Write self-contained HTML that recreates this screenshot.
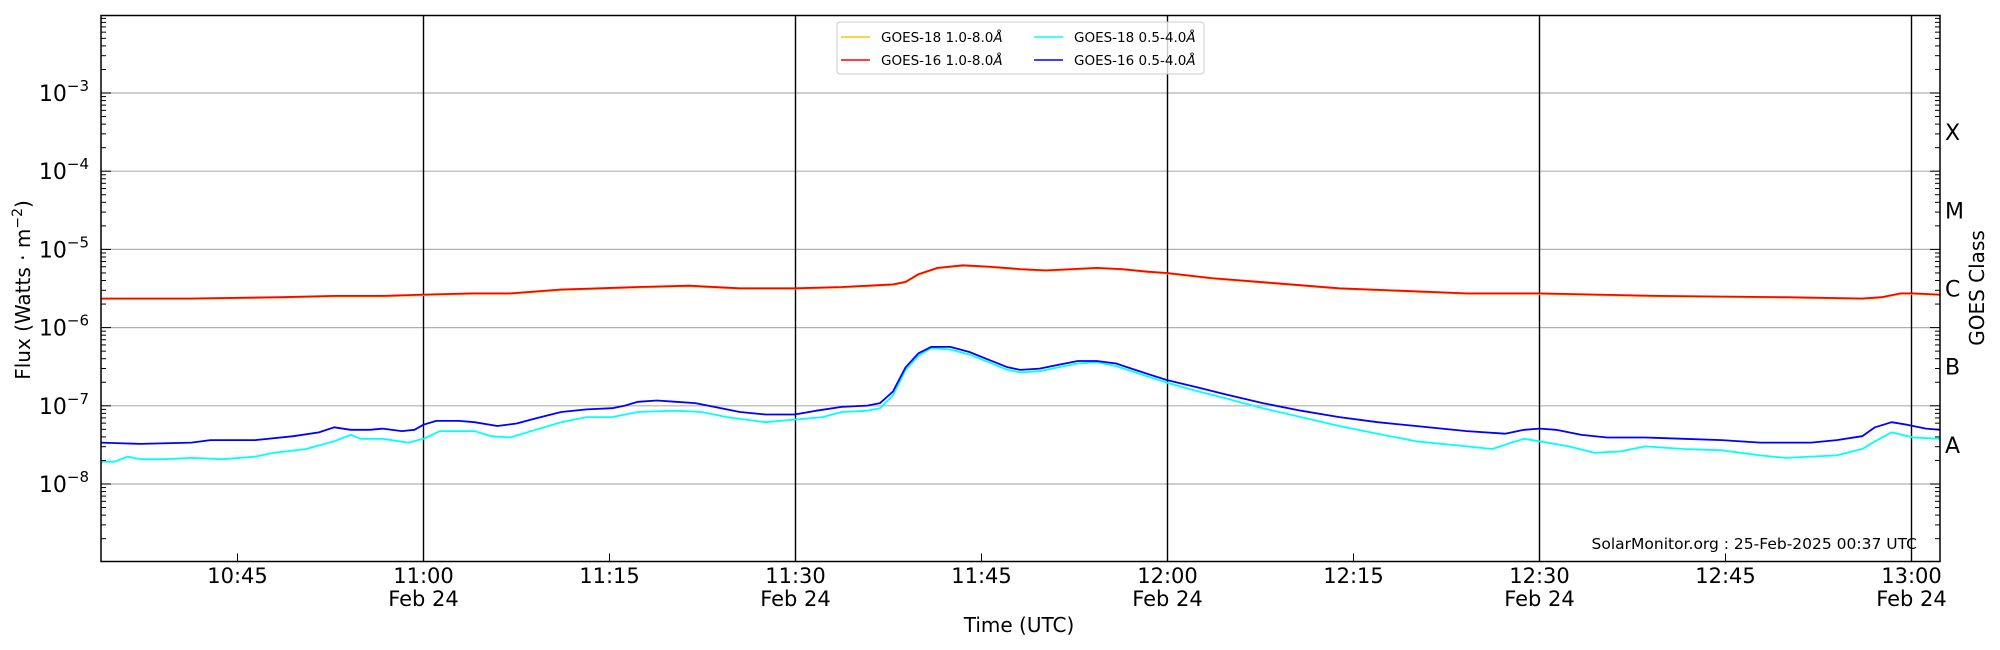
<!DOCTYPE html>
<html><head><meta charset="utf-8"><style>
html,body{margin:0;padding:0;background:#fff;}
svg{display:block;font-family:"DejaVu Sans","Liberation Sans",sans-serif;}
</style></head><body>
<svg id="s" width="2000" height="650" viewBox="0 0 2000 650" xmlns="http://www.w3.org/2000/svg">
<rect x="0" y="0" width="2000" height="650" fill="#fff"/>
<g id="grid"></g>
<g id="data"></g>
<rect x="101" y="15.5" width="1839" height="546" fill="none" stroke="#000" stroke-width="1.5"/>
<g id="ticks"></g>
<g id="labels" font-size="20" fill="#000"></g>
<text transform="translate(30,290) rotate(-90)" text-anchor="middle" font-size="20">Flux (Watts · m<tspan dy="-8" font-size="14">−2</tspan><tspan dy="8">)</tspan></text>
<text transform="translate(1984,288) rotate(-90)" text-anchor="middle" font-size="20">GOES Class</text>
<text x="1019" y="632" text-anchor="middle" font-size="20">Time (UTC)</text>
<text x="1917" y="549" text-anchor="end" font-size="15.5">SolarMonitor.org : 25-Feb-2025 00:37 UTC</text>
<g font-size="13.5">
<rect x="837" y="22" width="367" height="52" rx="3" fill="#fff" fill-opacity="0.8" stroke="#ccc"/>
<line x1="841" y1="37" x2="870" y2="37" stroke="#ffc800" stroke-width="1.5"/>
<text x="881" y="42">GOES-18 1.0-8.0<tspan font-style="italic">Å</tspan></text>
<line x1="841" y1="60" x2="870" y2="60" stroke="#ff0000" stroke-width="1.5"/>
<text x="881" y="65">GOES-16 1.0-8.0<tspan font-style="italic">Å</tspan></text>
<line x1="1034" y1="37" x2="1063" y2="37" stroke="#00ffff" stroke-width="1.5"/>
<text x="1074" y="42">GOES-18 0.5-4.0<tspan font-style="italic">Å</tspan></text>
<line x1="1034" y1="60" x2="1063" y2="60" stroke="#0000ff" stroke-width="1.5"/>
<text x="1074" y="65">GOES-16 0.5-4.0<tspan font-style="italic">Å</tspan></text>
</g>
</svg>
<script>
const NS="http://www.w3.org/2000/svg";
function el(p,t,a,txt){const e=document.createElementNS(NS,t);for(const k in a)e.setAttribute(k,a[k]);if(txt!==undefined)e.textContent=txt;document.getElementById(p).appendChild(e);return e;}
const X0=101,X1=1940,Y0=15.5,Y1=561.5;
const yOf=l=>93+(-3-l)*78.2;
const xOf=m=>423.5+(m)*12.4;
for(let e=-3;e>=-8;e--){el("grid","line",{x1:X0,x2:X1,y1:yOf(e),y2:yOf(e),stroke:"#b0b0b0","stroke-width":1.2});}
[0,30,60,90,120].forEach(m=>el("grid","line",{x1:xOf(m),x2:xOf(m),y1:Y0,y2:Y1,stroke:"#000","stroke-width":1.4}));
for(let e=-9;e<=-2;e++){
  if(e>-9&&e<-2){const y=yOf(e);
    el("ticks","line",{x1:X0,x2:X0+10,y1:y,y2:y,stroke:"#000"});
    el("ticks","line",{x1:X1,x2:X1-10,y1:y,y2:y,stroke:"#000"});}
  if(e<-2)for(let k=2;k<=9;k++){const y=yOf(e+Math.log10(k));if(y<Y0)continue;
    el("ticks","line",{x1:X0,x2:X0+5,y1:y,y2:y,stroke:"#000"});
    el("ticks","line",{x1:X1,x2:X1-5,y1:y,y2:y,stroke:"#000"});}
}
[-15,0,15,30,45,60,75,90,105,120].forEach(m=>{const x=xOf(m);el("ticks","line",{x1:x,x2:x,y1:Y1,y2:Y1-8,stroke:"#000"});});
for(let e=-3;e>=-8;e--){const t=el("labels","text",{x:89,y:yOf(e)+8,"text-anchor":"end","font-size":22},"10");
  const ts=document.createElementNS(NS,"tspan");ts.setAttribute("dy","-10");ts.setAttribute("font-size","15");ts.textContent="−"+(-e);t.appendChild(ts);}
[["X",-3.5],["M",-4.5],["C",-5.5],["B",-6.5],["A",-7.5]].forEach(([c,l])=>el("labels","text",{x:1945,y:yOf(l)+8,"font-size":22},c));
const xl=[[-15,"10:45"],[0,"11:00"],[15,"11:15"],[30,"11:30"],[45,"11:45"],[60,"12:00"],[75,"12:15"],[90,"12:30"],[105,"12:45"],[120,"13:00"]];
xl.forEach(([m,s])=>{el("labels","text",{x:xOf(m),y:583,"text-anchor":"middle","font-size":21},s);
  if(m%30==0)el("labels","text",{x:xOf(m),y:606,"text-anchor":"middle","font-size":21},"Feb 24");});
const S=2000/1568;
function line(pts,col,w){el("data","polyline",{points:pts.map(p=>(p[0]*S).toFixed(1)+","+(p[1]*S).toFixed(1)).join(" "),fill:"none",stroke:col,"stroke-width":w,"stroke-linejoin":"round"});}
const red=[[79,234],[150,234],[220,233],[262,232],[300,232],[332,231],[370,230],[400,230],[440,227],[470,226],[500,225],[540,224],[580,226],[623,226],[660,225],[700,223],[710,221],[720,215],[735,210],[755,208],[775,209],[800,211],[820,212],[840,211],[860,210],[880,211],[900,213],[915,214],[950,218],[1000,222],[1050,226],[1100,228],[1150,230],[1207,230],[1300,232],[1400,233],[1460,234],[1475,233],[1490,230],[1500,230],[1521,231]];
const blue=[[79,347],[110,348],[150,347],[165,345],[200,345],[230,342],[250,339],[262,335],[275,337],[290,337],[300,336],[315,338],[325,337],[332,333],[342,330],[360,330],[372,331],[390,334],[405,332],[420,328],[440,323],[460,321],[480,320],[490,318],[500,315],[515,314],[530,315],[545,316],[560,319],[580,323],[600,325],[623,325],[640,322],[660,319],[680,318],[690,316],[700,307],[710,288],[720,277],[730,272],[745,272],[760,276],[775,282],[790,288],[800,290],[815,289],[830,286],[845,283],[860,283],[875,285],[890,290],[915,298],[940,304],[960,309],[990,316],[1020,322],[1050,327],[1080,331],[1110,334],[1150,338],[1180,340],[1195,337],[1207,336],[1220,337],[1240,341],[1260,343],[1290,343],[1320,344],[1350,345],[1380,347],[1400,347],[1420,347],[1440,345],[1460,342],[1470,335],[1483,331],[1495,333],[1510,336],[1521,337]];
const cyan=[[79,362],[90,362],[100,358],[110,360],[130,360],[150,359],[175,360],[200,358],[215,355],[240,352],[262,346],[275,341],[283,344],[300,344],[320,347],[332,344],[345,338],[360,338],[372,338],[385,342],[400,343],[420,337],[440,331],[460,327],[480,327],[500,323],[530,322],[550,323],[570,327],[600,331],[623,329],[645,327],[660,323],[680,322],[690,320],[700,310],[710,290],[720,279],[730,273],[745,274],[760,278],[775,284],[790,290],[800,292],[815,291],[830,288],[845,285],[860,284],[875,287],[890,292],[915,300],[940,307],[960,312],[990,320],[1020,327],[1050,334],[1080,340],[1110,346],[1150,350],[1170,352],[1185,347],[1195,344],[1207,346],[1230,350],[1250,355],[1270,354],[1290,350],[1320,352],[1350,353],[1380,357],[1400,359],[1420,358],[1440,357],[1460,352],[1470,346],[1483,339],[1500,343],[1521,344]];
line(red.map(p=>[p[0],p[1]+0.5]),"#ffc800",1.5);
line(cyan,"#00ffff",1.8);
line(red,"#ff0000",1.8);
line(blue,"#0000ff",1.8);
</script>
</body></html>
